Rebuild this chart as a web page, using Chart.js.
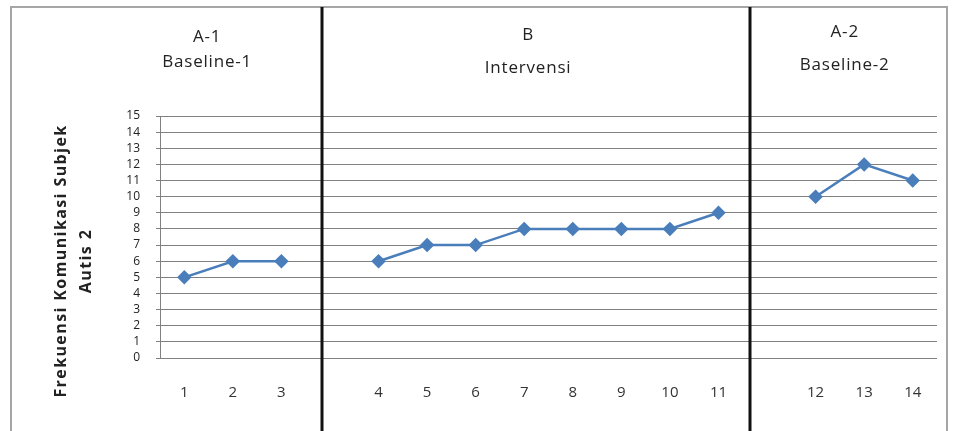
<!DOCTYPE html>
<html>
<head>
<meta charset="utf-8">
<script src="https://cdn.jsdelivr.net/npm/chart.js@4/dist/chart.umd.min.js"></script>
<style>
html,body{margin:0;padding:0;background:#fff;}
#wrap{width:953px;height:431px;position:relative;}
</style>
</head>
<body>
<div id="wrap"><canvas id="c" width="953" height="431"></canvas></div>
<script>
// ---- data ----
const categories = ["1","2","3","","4","5","6","7","8","9","10","11","","12","13","14"];
const frekuensi  = [5, 6, 6, null, 6, 7, 7, 8, 8, 8, 8, 9, null, 10, 12, 11];
const yTicks     = [0,1,2,3,4,5,6,7,8,9,10,11,12,13,14,15];
const phaseTitles = [["A-1","Baseline-1"],["B","Intervensi"],["A-2","Baseline-2"]];
const phaseDividers = [2.84, 11.65];          // phase boundaries, in category units
const phaseCenters  = [0.47, 7.08, 13.6];     // label centres, in category units
const yTitle = ["Frekuensi Komunikasi Subjek","Autis 2"];

const FONT = "'Open Sans', 'Noto Sans', sans-serif";

const decor = {
  id: 'decor',
  beforeDraw(chart){
    const ctx = chart.ctx;
    ctx.save();
    ctx.fillStyle = '#fff';
    ctx.fillRect(0,0,chart.width,chart.height);
    ctx.strokeStyle = '#a6a6a6';
    ctx.lineWidth = 2;
    ctx.strokeRect(11,7,936,440);
    ctx.restore();
  },
  afterDraw(chart){
    const ctx = chart.ctx, xs = chart.scales.x;
    ctx.save();
    ctx.strokeStyle = '#111';
    ctx.lineWidth = 3;
    phaseDividers.forEach(v=>{
      const px = Math.round(xs.getPixelForValue(v));
      ctx.beginPath(); ctx.moveTo(px,7); ctx.lineTo(px,chart.height); ctx.stroke();
    });
    ctx.fillStyle = '#222';
    ctx.font = '17px ' + FONT;
    ctx.letterSpacing = '0.8px';
    ctx.textAlign = 'center';
    ctx.textBaseline = 'middle';
    const rows = [[37,62],[35,68],[32,65]];
    phaseTitles.forEach((t,i)=>{
      const px = xs.getPixelForValue(phaseCenters[i]);
      ctx.fillText(t[0], px, rows[i][0]);
      ctx.fillText(t[1], px, rows[i][1]);
    });
    // y axis title (two lines, rotated)
    ctx.font = 'bold 16px ' + FONT;
    ctx.letterSpacing = '1.4px';
    const cy = 261;
    [61, 86].forEach((x,i)=>{
      ctx.save();
      ctx.translate(x, cy);
      ctx.rotate(-Math.PI/2);
      ctx.fillText(yTitle[i], 0, 0);
      ctx.restore();
    });
    ctx.restore();
  }
};

new Chart(document.getElementById('c'), {
  type: 'line',
  data: {
    labels: categories,
    datasets: [{
      data: frekuensi,
      borderColor: '#4a7ebb',
      backgroundColor: '#4a7ebb',
      borderWidth: 2.5,
      pointStyle: 'rectRot',
      pointRadius: 5.5,
      pointHoverRadius: 5.5,
      spanGaps: false,
      tension: 0
    }]
  },
  options: {
    responsive: false,
    animation: false,
    events: [],
    layout: { padding: { left: 40, top: 116, right: 16, bottom: 0 } },
    plugins: { legend: { display: false }, tooltip: { enabled: false } },
    scales: {
      x: {
        offset: true,
        grid: { display: false, drawTicks: false },
        border: { display: false },
        ticks: { color: '#333', font: { size: 15, family: FONT }, padding: 26, maxRotation: 0, autoSkip: false },
        afterFit(s){ s.height = 73; }
      },
      y: {
        min: 0, max: 15,
        afterBuildTicks(s){ s.ticks = yTicks.map(v=>({value:v})); },
        grid: { color: '#808080', lineWidth: 1, tickLength: 4, drawTicks: true },
        border: { display: true, color: '#808080', width: 1 },
        ticks: { color: '#222', font: { size: 12, family: FONT }, padding: 16, autoSkip: false },
        afterFit(s){ s.width = 120; }
      }
    }
  },
  plugins: [decor]
});
</script>
</body>
</html>
